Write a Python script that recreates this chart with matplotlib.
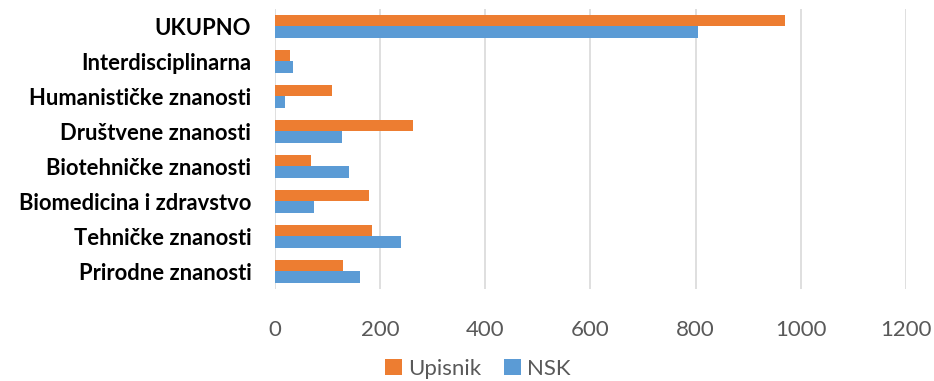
import numpy as np
import matplotlib.pyplot as plt

categories = ['Prirodne znanosti', 'Tehničke znanosti', 'Biomedicina i zdravstvo',
              'Biotehničke znanosti', 'Društvene znanosti', 'Humanističke znanosti',
              'Interdisciplinarna', 'UKUPNO']
upisnik = [129, 185, 178, 69, 263, 109, 29, 970]
nsk = [161, 239, 75, 141, 127, 19, 34, 804]
x_ticks = [0, 200, 400, 600, 800, 1000, 1200]

plt.rcParams['font.family'] = ['Lato', 'DejaVu Sans']

fig = plt.figure(figsize=(9.34, 3.81), dpi=100)
ax = fig.add_axes([0.2944, 0.2415, 0.6756, 0.735])

y = np.arange(len(categories))
h = 0.32
ax.barh(y + h / 2, upisnik, height=h, color='#ED7D31', label='Upisnik', zorder=3)
ax.barh(y - h / 2, nsk, height=h, color='#5B9BD5', label='NSK', zorder=3)

ax.set_xlim(0, 1200)
ax.set_ylim(-0.5, len(categories) - 0.5)
ax.set_xticks(x_ticks)
ax.set_yticks(y)
ax.set_yticklabels(categories, fontweight='bold', fontsize=15.8, color='black')
ax.tick_params(axis='y', length=0, pad=17)
ax.tick_params(axis='x', length=0, pad=22, labelsize=16, labelcolor='#595959')
ax.grid(axis='x', color='#d9d9d9', linewidth=1.2, zorder=0)
for s in ax.spines.values():
    s.set_visible(False)

handles, labels = ax.get_legend_handles_labels()
fig.legend(handles, labels, loc='center', bbox_to_anchor=(478 / 934, 1 - 369 / 381),
           ncol=2, frameon=False, fontsize=16, handlelength=0.75, handleheight=0.75,
           handletextpad=0.3, columnspacing=1.0, labelcolor='#595959')

fig.savefig('out.png', dpi=100)
